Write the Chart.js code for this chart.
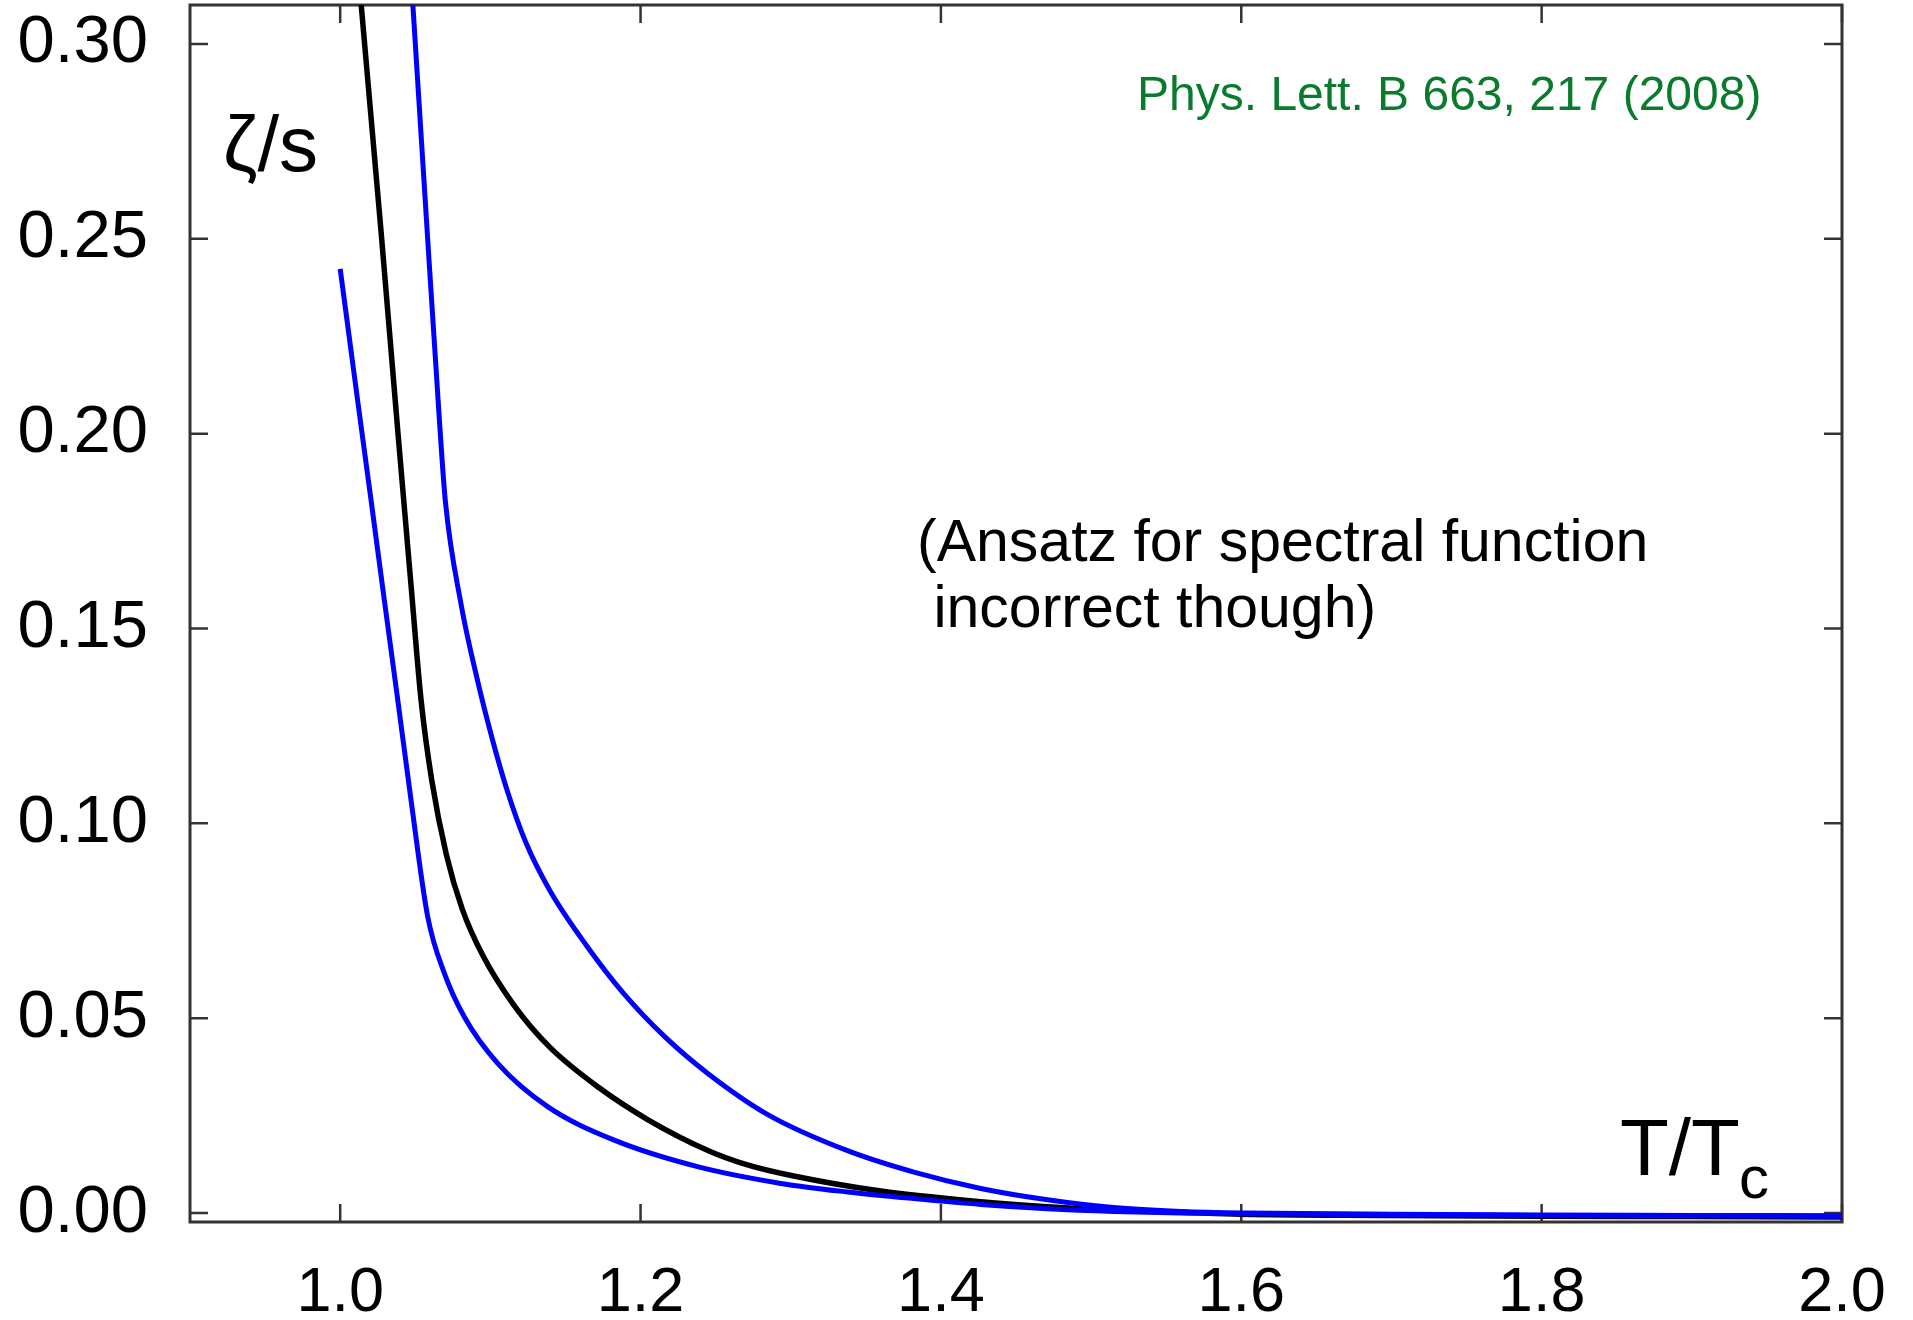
<!DOCTYPE html>
<html>
<head>
<meta charset="utf-8">
<script src="https://cdn.jsdelivr.net/npm/chart.js@4.4.1/dist/chart.umd.min.js"></script>
<style>
  html, body { margin: 0; padding: 0; background: #fff; }
  #wrap { width: 1913px; height: 1320px; position: relative; }
</style>
</head>
<body>
<div id="wrap"><canvas id="zetaChart"></canvas></div>
<script>
// zeta/s vs T/Tc
const centralT    = [1.0115, 1.014, 1.0273, 1.0384, 1.0472, 1.0539, 1.061, 1.0707, 1.0813, 1.0951, 1.1154, 1.1397, 1.1722, 1.2047, 1.2452, 1.27, 1.302, 1.3589, 1.4265, 1.4709, 1.515, 1.56, 1.6, 1.7, 1.8, 1.9, 2.0];
const centralZeta = [0.32, 0.31, 0.2515, 0.2005, 0.161, 0.1315, 0.111, 0.092, 0.078, 0.066, 0.0535, 0.0425, 0.0322, 0.024, 0.016, 0.0125, 0.0095, 0.0057, 0.0029, 0.0016, 0.0007, 0.0002, -0.0003, -0.0006, -0.0008, -0.0009, -0.001];

const lowerT    = [1.0, 1.0118, 1.0206, 1.0295, 1.0384, 1.0472, 1.0583, 1.0694, 1.0827, 1.1049, 1.1381, 1.1825, 1.2379, 1.2934, 1.3378, 1.382, 1.4265, 1.4709, 1.515, 1.56, 1.6, 1.7, 1.8, 1.9, 2.0];
const lowerZeta = [0.2423, 0.208, 0.1828, 0.157, 0.1315, 0.1059, 0.076, 0.0615, 0.0503, 0.0384, 0.0273, 0.0187, 0.0119, 0.0076, 0.0054, 0.0037, 0.0022, 0.0011, 0.0004, 0.0, -0.0002, -0.0004, -0.0006, -0.0007, -0.0008];

const upperT    = [1.0468, 1.0484, 1.0572, 1.0661, 1.07, 1.0805, 1.091, 1.1016, 1.1113, 1.1235, 1.1397, 1.1641, 1.1884, 1.2168, 1.2452, 1.285, 1.3378, 1.382, 1.4265, 1.4709, 1.515, 1.56, 1.604, 1.7, 1.8, 1.9, 2.0];
const upperZeta = [0.32, 0.31, 0.2564, 0.2033, 0.1828, 0.1562, 0.1374, 0.1212, 0.1083, 0.0952, 0.0827, 0.0686, 0.0565, 0.045, 0.0357, 0.0252, 0.016, 0.0105, 0.0063, 0.0034, 0.0014, 0.0004, 0.0, -0.0003, -0.0005, -0.0006, -0.0007];

const xTicks = [1.0, 1.2, 1.4, 1.6, 1.8, 2.0];
const yTicks = [0.00, 0.05, 0.10, 0.15, 0.20, 0.25, 0.30];

const FONT = "'Liberation Sans', Arial, Helvetica, sans-serif";
const FRAME = '#333';

function toPoints(ts, zs) {
  return ts.map((t, i) => ({ x: t, y: zs[i] }));
}

// box round the plot, ticks pointing inwards on all four sides, plus the texts
const framePlugin = {
  id: 'frame',
  beforeDatasetsDraw(chart) {
    const { ctx, chartArea: a, scales: { x, y } } = chart;
    const len = 18;
    ctx.save();
    ctx.strokeStyle = FRAME;
    ctx.lineWidth = 2.5;
    ctx.beginPath();
    xTicks.forEach(v => {
      const px = x.getPixelForValue(v);
      ctx.moveTo(px, a.bottom); ctx.lineTo(px, a.bottom - len);
      ctx.moveTo(px, a.top); ctx.lineTo(px, a.top + len);
    });
    yTicks.forEach(v => {
      const py = y.getPixelForValue(v);
      ctx.moveTo(a.left, py); ctx.lineTo(a.left + len, py);
      ctx.moveTo(a.right, py); ctx.lineTo(a.right - len, py);
    });
    ctx.stroke();
    ctx.lineWidth = 3;
    ctx.strokeRect(a.left, a.top, a.right - a.left, a.bottom - a.top);
    ctx.restore();
  },
  afterDraw(chart) {
    const ctx = chart.ctx;
    ctx.save();
    ctx.textBaseline = 'alphabetic';
    ctx.textAlign = 'left';
    ctx.fillStyle = '#000';

    ctx.font = `78px ${FONT}`;
    ctx.fillText('ζ/s', 223, 171);

    ctx.font = `80px ${FONT}`;
    ctx.fillText('T/T', 1620, 1175);
    ctx.font = `60px ${FONT}`;
    ctx.fillText('c', 1739, 1198);

    ctx.font = `59px ${FONT}`;
    ctx.fillText('(Ansatz for spectral function', 917, 561);
    ctx.fillText(' incorrect though)', 917, 627);

    ctx.fillStyle = 'rgb(10,122,45)';
    ctx.font = `48px ${FONT}`;
    ctx.fillText('Phys. Lett. B 663, 217 (2008)', 1137, 110);
    ctx.restore();
  }
};

new Chart(document.getElementById('zetaChart'), {
  type: 'scatter',
  data: {
    datasets: [
      {
        label: 'central',
        data: toPoints(centralT, centralZeta),
        borderColor: '#000',
        borderWidth: 5.5,
        order: 2
      },
      {
        label: 'lower',
        data: toPoints(lowerT, lowerZeta),
        borderColor: '#0000ff',
        borderWidth: 5,
        order: 1
      },
      {
        label: 'upper',
        data: toPoints(upperT, upperZeta),
        borderColor: '#0000ff',
        borderWidth: 5,
        order: 1
      }
    ]
  },
  options: {
    responsive: true,
    maintainAspectRatio: false,
    animation: false,
    showLine: true,
    elements: {
      point: { radius: 0, hoverRadius: 0 },
      line: { cubicInterpolationMode: 'monotone', fill: false }
    },
    layout: { padding: { top: 5, right: 71, left: 0, bottom: 0 } },
    plugins: {
      legend: { display: false },
      tooltip: { enabled: false }
    },
    scales: {
      x: {
        type: 'linear',
        min: 0.9,
        max: 2.0,
        grid: { display: false },
        border: { display: false },
        afterBuildTicks: s => { s.ticks = xTicks.map(v => ({ value: v })); },
        afterFit: s => { s.height = 98; s.paddingLeft = 0; s.paddingRight = 0; },
        ticks: {
          padding: 26,
          color: '#000',
          font: { family: FONT, size: 63 },
          callback: v => v.toFixed(1)
        }
      },
      y: {
        type: 'linear',
        min: -0.0023,
        max: 0.31,
        grid: { display: false },
        border: { display: false },
        afterBuildTicks: s => { s.ticks = yTicks.map(v => ({ value: v })); },
        afterFit: s => { s.width = 190; s.paddingTop = 0; s.paddingBottom = 0; },
        ticks: {
          padding: 34,
          color: '#000',
          font: { family: FONT, size: 67 },
          callback: v => v.toFixed(2)
        }
      }
    }
  },
  plugins: [framePlugin]
});
</script>
</body>
</html>
